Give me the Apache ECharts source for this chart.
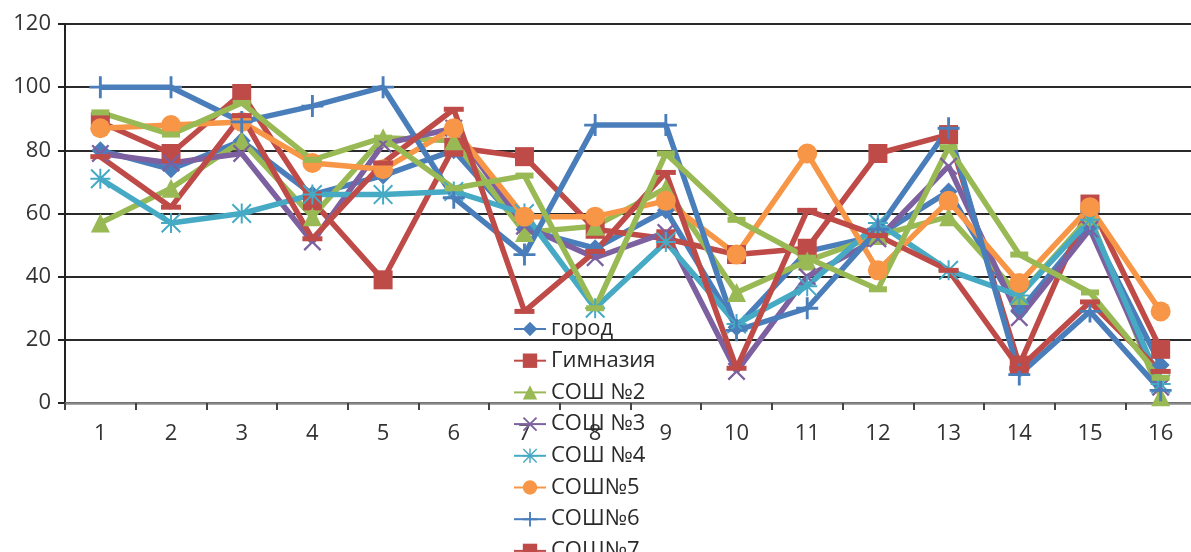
<!DOCTYPE html>
<html><head><meta charset="utf-8">
<script src="https://cdn.jsdelivr.net/npm/echarts@6/dist/echarts.min.js"></script>
<style>html,body{margin:0;padding:0;background:#fff}#c{width:1191px;height:552px}</style>
</head><body><div id="c"></div>
<script>
const categories = ['1','2','3','4','5','6','7','8','9','10','11','12','13','14','15','16'];
const titleText = 'Средний процент выполнения заданий';
const names = ['город','Гимназия','СОШ №2','СОШ №3','СОШ №4','СОШ№5','СОШ№6','СОШ№7','СОШ№8'];
const gorod     = [80, 74, 83, 66, 72, 80, 55, 49, 61, 24, 48, 53, 67, 29, 56, 12];
const gimnaziya = [89, 79, 98, 64, 39, 81, 78, 55, 52, 47, 49, 79, 85, 12, 63, 17];
const sosh2     = [57, 68, 83, 59, 84, 83, 54, 56, 68, 35, 45, 53, 59, 34, 59, 2];
const sosh3     = [79, 76, 79, 51, 82, 87, 56, 46, 54, 10, 40, 52, 75, 27, 55, 5];
const sosh4     = [71, 57, 60, 66, 66, 67, 60, 30, 51, 25, 37, 57, 42, 34, 58, 6];
const sosh5     = [87, 88, 89, 76, 74, 87, 59, 59, 64, 47, 79, 42, 64, 38, 62, 29];
const sosh6     = [100, 100, 89, 94, 100, 65, 47, 88, 88, 23, 30, 55, 87, 9, 29, 4];
const sosh7     = [78, 62, 91, 52, 76, 93, 29, 48, 73, 11, 61, 53, 42, 11, 32, 10];
const sosh8     = [92, 85, 95, 77, 84, 68, 72, 30, 79, 58, 46, 36, 81, 47, 35, 8];

const plusPath = 'path://M8.7,0H11.3V8.7H20V11.3H11.3V20H8.7V11.3H0V8.7H8.7Z';
const xPath = 'path://M1.8,0L10,8.2L18.2,0L20,1.8L11.8,10L20,18.2L18.2,20L10,11.8L1.8,20L0,18.2L8.2,10L0,1.8Z';
const starPath = 'path://M9,0H11V9H20V11H11V20H9V11H0V9H9Z M1.4,0L10,8.6L18.6,0L20,1.4L11.4,10L20,18.6L18.6,20L10,11.4L1.4,20L0,18.6L8.6,10L0,1.4Z';

const BLUE='#4A7EBB', RED='#BE4B48', GREEN='#98B954', PURPLE='#7D60A0', AQUA='#46AAC5', ORANGE='#F79646';

function mk(name, data, color, symbol, size) {
  return { name:name, type:'line', data:data, symbol:symbol, symbolSize:size, showSymbol:true,
    lineStyle:{color:color, width:5.5}, itemStyle:{color:color}, emphasis:{disabled:true}, animation:false };
}

const chart = echarts.init(document.getElementById('c'));
chart.setOption({
  backgroundColor:'#fff',
  animation:false,
  textStyle:{fontFamily:'Open Sans'},
  title:{text:titleText, left:590, textAlign:'center', top:-28,
    textStyle:{fontSize:22, fontWeight:'normal', color:'#333', fontFamily:'Open Sans'}},
  grid:{left:65, top:24, width:1131, height:379, outerBoundsMode:'none', containLabel:false},
  legend:{orient:'vertical', left:508, top:313, height:400, itemWidth:32, itemHeight:18, itemGap:9.7,
    textStyle:{fontSize:22, color:'#2a2a2a', fontFamily:'Open Sans'},
    data:names},
  xAxis:{type:'category', data:categories, boundaryGap:true,
    axisLine:{lineStyle:{color:'#8a8a8a', width:2.5}},
    axisTick:{show:true, length:7, lineStyle:{color:'#444', width:2}},
    axisLabel:{fontSize:22, color:'#333', margin:20, fontFamily:'Open Sans'},
    splitLine:{show:false}},
  yAxis:{type:'value', min:0, max:120, interval:20,
    axisLine:{show:true, lineStyle:{color:'#222', width:2}},
    axisTick:{show:true, length:7, lineStyle:{color:'#222', width:2}},
    axisLabel:{fontSize:22, color:'#333', margin:14, fontFamily:'Open Sans'},
    splitLine:{lineStyle:{color:'#2a2a2a', width:2}}},
  series:[
    mk(names[0], gorod, BLUE, 'diamond', 18),
    mk(names[1], gimnaziya, RED, 'rect', 19),
    mk(names[2], sosh2, GREEN, 'triangle', 19),
    mk(names[3], sosh3, PURPLE, xPath, 18),
    mk(names[4], sosh4, AQUA, starPath, 20),
    mk(names[5], sosh5, ORANGE, 'circle', 20),
    mk(names[6], sosh6, BLUE, plusPath, 22),
    mk(names[7], sosh7, RED, 'rect', [20,5]),
    mk(names[8], sosh8, GREEN, 'rect', [18,6])
  ]
});
</script></body></html>
